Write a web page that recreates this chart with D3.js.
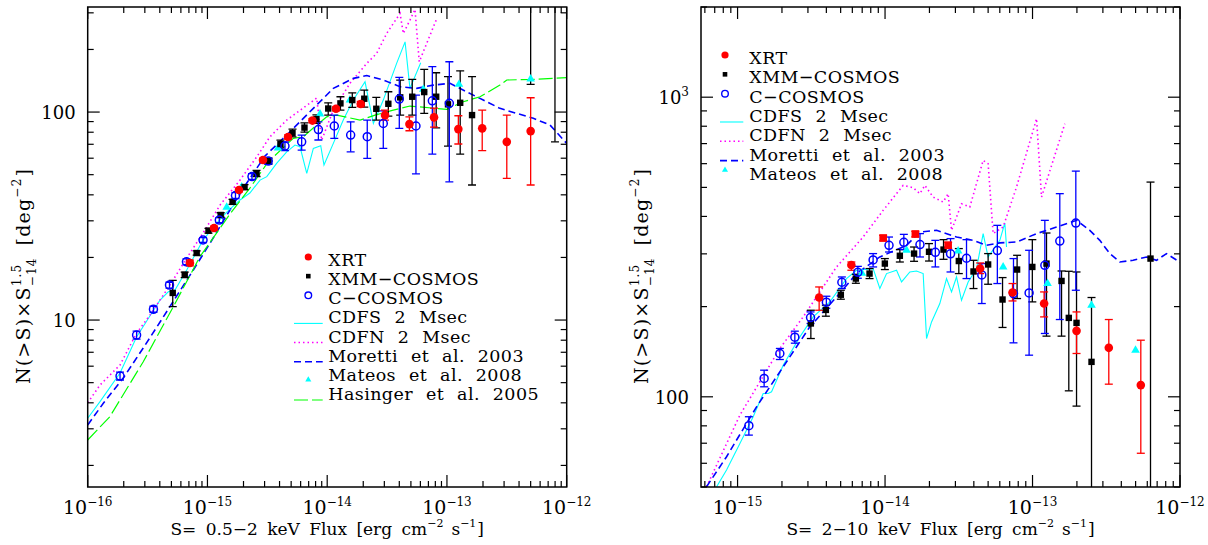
<!DOCTYPE html>
<html>
<head>
<meta charset="utf-8">
<script src="https://cdn.jsdelivr.net/npm/d3@7"></script>
<style>
  body { margin: 0; background: #fff; }
  text { font-family: "DejaVu Serif", serif; fill: #000; word-spacing: 4px; }
  .legend text { word-spacing: 7px; letter-spacing: 0.4px; }
  .ytitle text { letter-spacing: 1.2px; }
</style>
</head>
<body>
<svg id="chart" width="1208" height="545"></svg>
<script>
// ---------- 0.5-2 keV panel ----------
// points: [S, N, low, high]
var softXrt = [
  [7.14e-16, 18.8, 18.2, 19.4], [1.135e-15, 27.7, 27.1, 28.3], [1.835e-15, 42.2, 41.3, 43.1],
  [2.91e-15, 58.8, 57.5, 60.1], [4.71e-15, 75.9, 74.2, 77.6], [7.53e-15, 91.0, 89.0, 93.0],
  [1.184e-14, 103.7, 101.4, 106.0], [1.906e-14, 109.3, 106.2, 112.5], [3.04e-14, 96.7, 91.5, 102.2],
  [4.86e-14, 87.5, 81.3, 94.9], [7.80e-14, 94.3, 84.7, 104.5], [1.245e-13, 82.8, 70.2, 96.0],
  [1.97e-13, 83.5, 65.2, 102.2], [3.16e-13, 71.9, 48.0, 96.7], [5.0e-13, 81.0, 44.6, 117.2]
]
var softXmm = [
  [5.13e-16, 13.5, 11.6, 15.5], [6.46e-16, 16.5, 16.0, 17.0], [8.13e-16, 21.0, 20.5, 21.5],
  [1.02e-15, 26.9, 26.2, 27.6], [1.29e-15, 32.0, 31.2, 32.8], [1.62e-15, 37.0, 36.0, 38.0],
  [2.04e-15, 43.6, 42.4, 44.8], [2.57e-15, 50.7, 49.0, 52.4], [3.24e-15, 58.1, 56.3, 60.0],
  [4.07e-15, 70.2, 67.2, 73.3], [5.13e-15, 79.2, 75.9, 82.8], [6.46e-15, 84.2, 80.0, 88.7],
  [8.13e-15, 92.5, 88.2, 96.9], [1.02e-14, 104.0, 96.7, 110.8], [1.29e-14, 110.1, 102.2, 118.5],
  [1.62e-14, 114.2, 105.3, 123.8], [2.04e-14, 115.9, 105.7, 127.6], [2.57e-14, 103.7, 91.5, 117.7],
  [3.24e-14, 109.6, 95.7, 125.2], [4.07e-14, 117.7, 96.7, 142.5], [5.13e-14, 118.5, 96.7, 143.6],
  [6.46e-14, 124.8, 98.6, 160.3], [8.13e-14, 118.5, 84.0, 154.5], [1.02e-13, 108.9, 68.6, 147.9],
  [1.29e-13, 110.8, 62.8, 157.9], [1.62e-13, 96.7, 44.6, 147.9],
  [5.0e-13, 420, 135.9, 1300], [7.98e-13, 420, 71.9, 1300]
]
var softChandra = [
  [1.862e-16, 5.38, 5.15, 5.62], [2.56e-16, 8.47, 8.10, 8.85], [3.54e-16, 11.26, 10.9, 11.65],
  [4.82e-16, 14.73, 14.25, 15.2], [6.68e-16, 19.06, 18.45, 19.7], [9.19e-16, 24.26, 23.6, 24.9],
  [1.256e-15, 30.26, 29.4, 31.1], [1.714e-15, 39.7, 38.4, 41.0], [2.355e-15, 48.97, 47.4, 50.6],
  [3.22e-15, 58.1, 56.1, 60.1], [4.44e-15, 68.6, 65.2, 71.9], [6.12e-15, 71.9, 65.6, 77.5],
  [8.44e-15, 82.4, 73.4, 89.8], [1.146e-14, 85.7, 74.8, 96.7], [1.57e-14, 77.5, 64.4, 89.8],
  [2.16e-14, 76.1, 59.9, 91.5], [2.94e-14, 88.2, 66.9, 101.4], [4.00e-14, 115.5, 83.5, 146.8],
  [5.51e-14, 85.7, 50.4, 120.7], [7.55e-14, 113.3, 62.8, 165.2], [1.047e-13, 110.1, 46.2, 174.5]
]
var softMateos = [
  [1.448e-15, 34.9], [1.932e-15, 43.6], [3.88e-15, 67.1], [8.71e-15, 97.8],
  [1.549e-14, 114.2], [6.35e-14, 128.6], [1.26e-13, 135.9], [5.0e-13, 144.1]
]
// curves: [S, N]
var softCdfs = [
  [1e-16, 3.37], [1.267e-16, 4.05], [1.862e-16, 5.56], [2.565e-16, 8.31], [4.02e-16, 12.48],
  [4.71e-16, 13.68], [5.36e-16, 13.94], [6.71e-16, 17.4], [9.19e-16, 24.25], [1.156e-15, 28.6],
  [1.449e-15, 33.0], [1.87e-15, 37.8], [2.26e-15, 40.8], [2.75e-15, 47.1], [3.13e-15, 48.9],
  [3.78e-15, 56.7], [4.59e-15, 64.4], [5.38e-15, 69.4], [5.93e-15, 68.1], [6.75e-15, 50.7],
  [7.66e-15, 66.9], [8.83e-15, 68.9], [9.4e-15, 55.6], [1.125e-14, 70.7], [1.362e-14, 91.5],
  [1.652e-14, 114.2], [2.07e-14, 139.8], [2.43e-14, 88.2], [2.94e-14, 114.2], [3.80e-14, 171.4],
  [4.47e-14, 217.6], [4.91e-14, 130.0], [6.04e-14, 172.6]
]
var softCdfn = [
  [1e-16, 4.00], [1.267e-16, 4.87], [1.862e-16, 6.08], [2.565e-16, 8.66], [3.31e-16, 10.57],
  [4.86e-16, 14.72], [6.71e-16, 19.86], [9.19e-16, 26.2], [1.274e-15, 35.7], [1.87e-15, 47.1],
  [2.58e-15, 60.9], [3.33e-15, 76.1], [4.59e-15, 91.5], [6.53e-15, 106.1], [8.17e-15, 116.8],
  [8.99e-15, 73.3], [1.125e-14, 102.2], [1.549e-14, 137.5], [2.14e-14, 171.4], [2.59e-14, 191.5],
  [3.14e-14, 238.8], [4.06e-14, 298.2], [4.32e-14, 238.8], [4.91e-14, 276.8], [5.41e-14, 311.7],
  [5.87e-14, 174.5], [8.30e-14, 285.3]
]
var softMoretti = [
  [1e-16, 3.13], [1.35e-16, 3.98], [1.98e-16, 5.26], [2.91e-16, 7.34], [4.02e-16, 9.78],
  [5.53e-16, 13.05], [7.62e-16, 17.4], [1.05e-15, 23.4], [1.54e-15, 33.8], [2.13e-15, 45.6],
  [3.02e-15, 61.4], [4.89e-15, 80.4], [7.66e-15, 104.2], [1.125e-14, 130.0], [1.652e-14, 145.2],
  [2.14e-14, 149.8], [2.94e-14, 142.6], [4.06e-14, 132.3], [5.58e-14, 130.0], [7.69e-14, 134.8],
  [1.06e-13, 137.5], [1.46e-13, 125.2], [2.01e-13, 114.2], [2.77e-13, 104.2], [3.82e-13, 98.6],
  [5.26e-13, 93.3], [7.26e-13, 86.6], [1e-12, 70.7]
]
var softHasinger = [
  [1e-16, 2.65], [1.53e-16, 3.43], [2.91e-16, 6.30], [5.19e-16, 11.6], [8.67e-16, 20.2],
  [1.54e-15, 32.3], [2.26e-15, 43.1], [3.22e-15, 57.7], [5.21e-15, 74.8], [6.31e-15, 76.1],
  [8.17e-15, 86.6], [9.91e-15, 94.9], [1.2e-14, 96.7], [1.88e-14, 91.5], [2.51e-14, 96.7],
  [3.56e-14, 102.2], [4.91e-14, 106.9], [9.95e-14, 103.0], [1.37e-13, 112.1], [1.89e-13, 118.5],
  [2.77e-13, 134.8], [3.16e-13, 142.6], [5.26e-13, 143.6], [1e-12, 146.3]
]

// ---------- 2-10 keV panel ----------
var hardXrt = [
  [3.574e-15, 214.5, 194.5, 232.6], [5.91e-15, 275.4, 264.5, 281.8],
  [4.412e-14, 267.9, 257.8, 279.7], [7.317e-14, 222.8, 208.9, 238.8], [1.198e-13, 204.8, 184.8, 223.9],
  [1.988e-13, 166.0, 139.5, 192.0], [3.29e-13, 145.7, 110.2, 181.1], [5.423e-13, 109.4, 64.8, 154.5]
]
// red points drawn as squares
var hardXrtSq = [
  [9.71e-15, 338.8, 331.6, 345.9], [1.605e-14, 349.4, 341.9, 356.7], [2.678e-14, 320.4, 313.1, 327.9]
]
var hardXmm = [
  [3.14e-15, 175.7, 156.5, 194.5], [3.97e-15, 195.0, 185.8, 202.2], [5.015e-15, 219.1, 211.7, 226.8],
  [6.34e-15, 248.1, 239.3, 256.4], [7.85e-15, 257.8, 248.1, 267.9], [9.97e-15, 278.4, 265.9, 289.3],
  [1.26e-14, 295.6, 281.8, 310.0], [1.573e-14, 300.6, 283.3, 316.2], [1.987e-14, 304.8, 283.9, 324.6],
  [2.492e-14, 310.0, 287.7, 334.6], [3.164e-14, 283.9, 257.8, 312.4], [3.98e-14, 262.0, 229.8, 285.5],
  [5.0e-14, 276.5, 237.5, 300.6], [6.262e-14, 211.2, 170.4, 250.0], [7.86e-14, 265.9, 212.8, 296.7],
  [9.97e-14, 271.3, 207.4, 334.6], [1.244e-13, 278.4, 159.4, 352.1], [1.573e-13, 243.6, 159.4, 263.0],
  [1.762e-13, 183.4, 104.7, 262.4], [1.988e-13, 176.5, 93.1, 261.0], [2.512e-13, 130.8, 30, 214.5],
  [6.31e-13, 289.3, 30, 520.8]
]
var hardChandra = [
  [1.193e-15, 80.1, 74.5, 85.8], [1.514e-15, 115.2, 108.0, 122.7], [1.935e-15, 139.5, 133.2, 145.0],
  [2.445e-15, 158.1, 151.0, 165.6], [3.125e-15, 183.9, 175.7, 192.0], [4.0e-15, 206.9, 197.5, 216.6],
  [5.095e-15, 241.2, 229.8, 251.2], [6.54e-15, 260.4, 248.7, 272.5], [8.30e-15, 286.2, 271.3, 300.6],
  [1.064e-14, 320.4, 304.3, 341.4], [1.341e-14, 327.9, 310.0, 348.5], [1.725e-14, 322.1, 292.9, 350.5],
  [2.193e-14, 303.6, 271.3, 332.8], [2.78e-14, 300.1, 261.0, 337.3], [3.568e-14, 290.0, 248.1, 334.6],
  [4.53e-14, 255.1, 204.8, 278.4], [5.774e-14, 307.6, 238.8, 373.5], [7.43e-14, 221.1, 151.4, 289.3],
  [9.48e-14, 222.2, 137.7, 308.3], [1.212e-13, 274.8, 162.7, 388.1], [1.531e-13, 331.1, 181.1, 476.4],
  [1.966e-13, 380.2, 226.8, 566.6]
]
var hardMateos = [
  [6.97e-15, 258.4], [1.399e-14, 308.3], [3.13e-14, 306.9], [6.32e-14, 271.3],
  [1.264e-13, 238.8], [2.512e-13, 202.2], [4.994e-13, 143.1]
]
var hardCdfs = [
  [7.21e-16, 50.1], [8.42e-16, 57.0], [1.037e-15, 69.9], [1.276e-15, 85.8], [1.492e-15, 102.6],
  [1.612e-15, 102.6], [1.70e-15, 103.9], [2.038e-15, 127.5], [2.645e-15, 158.5], [3.255e-15, 184.8],
  [4.225e-15, 207.4], [5.48e-15, 248.1], [6.41e-15, 264.5], [8.30e-15, 267.9], [9.22e-15, 229.8],
  [1.024e-14, 257.8], [1.197e-14, 264.5], [1.294e-14, 241.7], [1.473e-14, 261.0], [1.635e-14, 263.0],
  [1.813e-14, 257.8], [1.912e-14, 156.5], [2.067e-14, 177.8], [2.352e-14, 204.8], [2.612e-14, 248.1],
  [2.824e-14, 223.9], [3.053e-14, 251.2], [3.30e-14, 210.0], [3.66e-14, 241.7], [4.172e-14, 267.9],
  [4.626e-14, 350.5], [5.0e-14, 292.9], [6.003e-14, 332.8], [6.49e-14, 380.2], [6.664e-14, 316.2]
]
var hardCdfn = [
  [6.16e-16, 50.1], [1.037e-15, 86.9], [1.935e-15, 145.0], [2.786e-15, 184.8], [4.69e-15, 271.3],
  [7.10e-15, 341.4], [9.71e-15, 419.1], [1.327e-14, 507.8], [1.55e-14, 498.9], [1.722e-14, 476.4],
  [1.862e-14, 507.8], [2.119e-14, 464.2], [2.477e-14, 446.7], [2.678e-14, 476.4], [2.824e-14, 359.5],
  [3.30e-14, 441.0], [3.757e-14, 429.9], [4.626e-14, 615.2], [5.0e-14, 599.8], [5.407e-14, 350.5],
  [6.32e-14, 368.7], [7.79e-14, 501.2], [1.065e-13, 847.2], [1.151e-13, 464.2], [1.656e-13, 815.3]
]
var hardMoretti = [
  [6.16e-16, 50.1], [8.42e-16, 63.1], [1.345e-15, 92.6], [2.038e-15, 125.9], [3.09e-15, 171.2],
  [4.69e-15, 215.4], [6.41e-15, 257.8], [9.22e-15, 292.9], [1.399e-14, 320.4], [1.722e-14, 354.8],
  [2.235e-14, 359.5], [3.053e-14, 341.4], [3.956e-14, 332.8], [4.877e-14, 320.4], [6.003e-14, 326.3],
  [7.79e-14, 328.6], [1.065e-13, 350.5], [1.454e-13, 368.7], [1.988e-13, 388.1], [2.446e-13, 359.5],
  [2.86e-13, 332.8], [3.343e-13, 300.6], [3.907e-13, 281.8], [4.81e-13, 285.5], [5.93e-13, 292.9],
  [6.93e-13, 285.5], [8.10e-13, 300.6], [1e-12, 281.2]
]

var softLegend = ["XRT", "XMM\u2212COSMOS", "C\u2212COSMOS", "CDFS 2 Msec", "CDFN 2 Msec",
  "Moretti et al. 2003", "Mateos et al. 2008", "Hasinger et al. 2005"]
var hardLegend = softLegend.slice(0, 7)

var svg = d3.select("#chart")

// helper for text with super/subscripts, centered on (x,y)
function rich(parent, x, y, rotate, pieces, cls) {
  var g = parent.append("g")
    .attr("class", cls || null)
    .attr("transform", "translate(" + x + "," + y + ")" + (rotate ? " rotate(-90)" : ""))
  var inner = g.append("g")
  var pos = 0, held = 0
  pieces.forEach(function(p) {
    pos += p.gap || 0
    var el = inner.append("text")
      .attr("x", pos).attr("y", p.dy || 0)
      .attr("font-size", p.size)
      .text(p.t)
    var w = el.node().getComputedTextLength()
    if (p.hold) { held = w; return }
    pos += Math.max(w, held)
    held = 0
  })
  inner.attr("transform", "translate(" + (-pos / 2) + ",0)")
}

function isMajor(t) {
  var l = Math.log10(t)
  return Math.abs(l - Math.round(l)) < 1e-6
}

function panel(cfg) {
  var x = d3.scaleLog().domain(cfg.xDomain).range([cfg.x0, cfg.x1])
  var y = d3.scaleLog().domain(cfg.yDomain).range([cfg.y1, cfg.y0])
  var g = svg.append("g")

  g.append("clipPath").attr("id", cfg.id)
    .append("rect")
      .attr("x", cfg.x0).attr("y", cfg.y0)
      .attr("width", cfg.x1 - cfg.x0).attr("height", cfg.y1 - cfg.y0)
  var plot = g.append("g").attr("clip-path", "url(#" + cfg.id + ")")

  //// curves ////
  var line = d3.line().x(d => x(d[0])).y(d => y(d[1]))
  cfg.curves.forEach(function(c) {
    plot.append("path")
      .datum(c.data)
      .attr("d", line)
      .attr("fill", "none")
      .attr("stroke", c.color)
      .attr("stroke-width", c.width)
      .attr("stroke-dasharray", c.dash)
  })

  //// error bars ////
  function errorBars(data, color) {
    var eb = plot.append("g").attr("stroke", color).attr("stroke-width", 1.3)
    eb.selectAll("line.v")
      .data(data).enter()
      .append("line")
        .attr("x1", d => x(d[0])).attr("x2", d => x(d[0]))
        .attr("y1", d => y(d[2])).attr("y2", d => y(d[3]))
    var caps = []
    data.forEach(d => { caps.push([d[0], d[2]]); caps.push([d[0], d[3]]) })
    eb.selectAll("line.c")
      .data(caps).enter()
      .append("line")
        .attr("x1", d => x(d[0]) - 4).attr("x2", d => x(d[0]) + 4)
        .attr("y1", d => y(d[1])).attr("y2", d => y(d[1]))
  }
  var redSq = cfg.xrtSq || []
  errorBars(cfg.xmm, "#000")
  errorBars(cfg.chandra, "#0000ff")
  errorBars(cfg.xrt, "#ff0000")
  errorBars(redSq, "#ff0000")

  //// points ////
  plot.append("g").selectAll("path")
    .data(cfg.mateos).enter()
    .append("path")
      .attr("d", d3.symbol(d3.symbolTriangle, 32))
      .attr("transform", d => "translate(" + x(d[0]) + "," + y(d[1]) + ")")
      .attr("fill", "#00ffff")
  plot.append("g").selectAll("rect")
    .data(cfg.xmm).enter()
    .append("rect")
      .attr("x", d => x(d[0]) - 3.2).attr("y", d => y(d[1]) - 3.2)
      .attr("width", 6.4).attr("height", 6.4)
      .attr("fill", "#000")
  plot.append("g").selectAll("circle")
    .data(cfg.chandra).enter()
    .append("circle")
      .attr("cx", d => x(d[0])).attr("cy", d => y(d[1]))
      .attr("r", 4)
      .attr("fill", "none")
      .attr("stroke", "#0000ff")
      .attr("stroke-width", 1.5)
  plot.append("g").selectAll("circle")
    .data(cfg.xrt).enter()
    .append("circle")
      .attr("cx", d => x(d[0])).attr("cy", d => y(d[1]))
      .attr("r", 4.3)
      .attr("fill", "#ff0000")
  plot.append("g").selectAll("rect")
    .data(redSq).enter()
    .append("rect")
      .attr("x", d => x(d[0]) - 3.8).attr("y", d => y(d[1]) - 3.8)
      .attr("width", 7.6).attr("height", 7.6)
      .attr("fill", "#ff0000")

  //// frame + ticks ////
  g.append("rect")
    .attr("x", cfg.x0).attr("y", cfg.y0)
    .attr("width", cfg.x1 - cfg.x0).attr("height", cfg.y1 - cfg.y0)
    .attr("fill", "none").attr("stroke", "#000").attr("stroke-width", 1.5)

  var tk = g.append("g").attr("stroke", "#000").attr("stroke-width", 1.2)
  x.ticks().forEach(function(t) {
    var len = isMajor(t) ? 12 : 6
    tk.append("line").attr("x1", x(t)).attr("x2", x(t)).attr("y1", cfg.y1).attr("y2", cfg.y1 - len)
    tk.append("line").attr("x1", x(t)).attr("x2", x(t)).attr("y1", cfg.y0).attr("y2", cfg.y0 + len)
  })
  y.ticks().forEach(function(t) {
    var len = isMajor(t) ? 12 : 6
    tk.append("line").attr("y1", y(t)).attr("y2", y(t)).attr("x1", cfg.x0).attr("x2", cfg.x0 + len)
    tk.append("line").attr("y1", y(t)).attr("y2", y(t)).attr("x1", cfg.x1).attr("x2", cfg.x1 - len)
  })

  // tick labels
  x.ticks().filter(isMajor).forEach(function(t) {
    var lab = g.append("text")
      .attr("x", x(t)).attr("y", 514)
      .attr("text-anchor", "middle")
      .attr("font-size", 19)
    lab.append("tspan").text("10")
    lab.append("tspan").attr("dy", -8).attr("font-size", 12)
      .text("\u2212" + Math.abs(Math.round(Math.log10(t))))
  })
  y.ticks().filter(isMajor).forEach(function(t) {
    var lab = g.append("text")
      .attr("x", cfg.x0 - 12).attr("y", y(t) + 7)
      .attr("text-anchor", "end")
      .attr("font-size", 18)
    var e = Math.round(Math.log10(t))
    if (e >= 3) {
      lab.append("tspan").text("10")
      lab.append("tspan").attr("dy", -8).attr("font-size", 12).text(e)
    } else {
      lab.text(t)
    }
  })

  //// axis titles ////
  rich(g, (cfg.x0 + cfg.x1) / 2, 535, false, [
    {t: cfg.band, size: 17},
    {t: "\u22122", size: 11, dy: -8},
    {t: "s", size: 17, gap: 8},
    {t: "\u22121", size: 11, dy: -8},
    {t: "]", size: 17, gap: 1}
  ])
  rich(g, cfg.yTitleX, 276, true, [
    {t: "N(>S)\u00d7S", size: 19},
    {t: "1.5", size: 12, dy: -9, hold: true},
    {t: "\u221214", size: 12, dy: 6},
    {t: "[deg", size: 19, gap: 12},
    {t: "\u22122", size: 12, dy: -9},
    {t: "]", size: 19, gap: 1}
  ], "ytitle")

  //// legend ////
  var lg = g.append("g").attr("class", "legend")
  cfg.legend.forEach(function(label, i) {
    var by = cfg.legY + i * cfg.legStep
    var sx = cfg.legSym
    lg.append("text").attr("x", cfg.legText).attr("y", by).attr("font-size", 17.5).text(label)
    if (i === 0) {
      lg.append("circle").attr("cx", sx).attr("cy", by - 9).attr("r", 3.6).attr("fill", "#ff0000")
    } else if (i === 1) {
      lg.append("rect").attr("x", sx - 2.3).attr("y", by - 11.3).attr("width", 4.6).attr("height", 4.6).attr("fill", "#000")
    } else if (i === 2) {
      lg.append("circle").attr("cx", sx).attr("cy", by - 9).attr("r", 3.3)
        .attr("fill", "none").attr("stroke", "#0000ff").attr("stroke-width", 1.4)
    } else if (i === 6) {
      lg.append("path").attr("d", d3.symbol(d3.symbolTriangle, 16))
        .attr("transform", "translate(" + sx + "," + (by - cfg.triOff) + ")").attr("fill", "#00ffff")
    } else {
      var c = cfg.curves[{3: 0, 4: 1, 5: 2, 7: 3}[i]]
      lg.append("line")
        .attr("x1", cfg.legLine[0]).attr("x2", cfg.legLine[1])
        .attr("y1", by).attr("y2", by)
        .attr("stroke", c.color).attr("stroke-width", c.width)
        .attr("stroke-dasharray", c.dash)
    }
  })
}

var softCurves = [
  {data: softCdfs, color: "#00ffff", width: 1.1},
  {data: softCdfn, color: "#ff00ff", width: 1.6, dash: "1.5,3"},
  {data: softMoretti, color: "#0000ff", width: 1.6, dash: "7,4"},
  {data: softHasinger, color: "#00ff00", width: 1.2, dash: "14,4"}
]
var hardCurves = [
  {data: hardCdfs, color: "#00ffff", width: 1.1},
  {data: hardCdfn, color: "#ff00ff", width: 1.6, dash: "1.5,3"},
  {data: hardMoretti, color: "#0000ff", width: 1.6, dash: "7,4"}
]

panel({
  id: "clip-soft", x0: 87.7, x1: 566.7, y0: 7, y1: 487,
  xDomain: [1e-16, 1e-12], yDomain: [1.575, 320],
  xrt: softXrt, xmm: softXmm, chandra: softChandra, mateos: softMateos,
  curves: softCurves,
  band: "S= 0.5\u22122 keV Flux [erg cm",
  yTitleX: 30,
  legend: softLegend, legY: 266, legStep: 19.14,
  legSym: 308.3, legText: 328.3, legLine: [294, 322.7], triOff: 1
})
panel({
  id: "clip-hard", x0: 701, x1: 1180, y0: 7, y1: 487,
  xDomain: [5.65e-16, 1e-12], yDomain: [50, 2000],
  xrt: hardXrt, xrtSq: hardXrtSq, xmm: hardXmm, chandra: hardChandra, mateos: hardMateos,
  curves: hardCurves,
  band: "S= 2\u221210 keV Flux [erg cm",
  yTitleX: 648,
  legend: hardLegend, legY: 64, legStep: 19.33,
  legSym: 725, legText: 749.3, legLine: [720, 743.3], triOff: 10
})
</script>
</body>
</html>
